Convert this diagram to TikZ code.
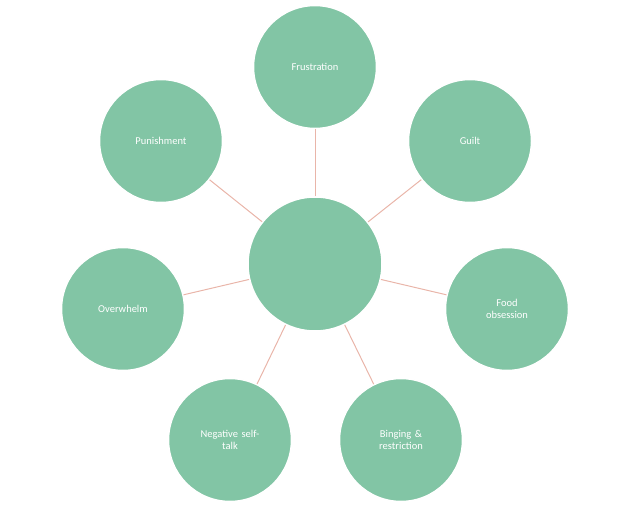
\documentclass[tikz,border=0pt]{standalone}
\usepackage{fontspec}
\setmainfont{Carlito}
\definecolor{fillg}{HTML}{82C5A5}
\definecolor{linep}{HTML}{E9B5A9}
\begin{document}
\begin{tikzpicture}[x=1pt,y=-1pt,
  outer/.style={circle,fill=fillg,draw=white,line width=1.5pt,minimum size=123pt,inner sep=0pt,text=white,font=\fontsize{10.5}{12.5}\selectfont,align=center,text width=80pt},
  hub/.style={circle,fill=fillg,draw=white,line width=1.5pt,minimum size=134pt,inner sep=0pt},
  link/.style={draw=linep,line width=1pt}]
\useasboundingbox (0,0) rectangle (629,510);
\node[hub] (c) at (315,264) {};
\node[outer] (f) at (315,67) {Frustration};
\node[outer] (g) at (470,141) {Guilt};
\node[outer] (o) at (507,309) {Food\\obsession};
\node[outer] (b) at (401,440) {Binging \&\\restriction};
\node[outer] (n) at (230,440) {Negative self-\\talk};
\node[outer] (w) at (123,309) {Overwhelm};
\node[outer] (p) at (161,141) {Punishment};
\foreach \x in {f,g,o,b,n,w,p} \draw[link] (c) -- (\x);
\end{tikzpicture}
\end{document}
